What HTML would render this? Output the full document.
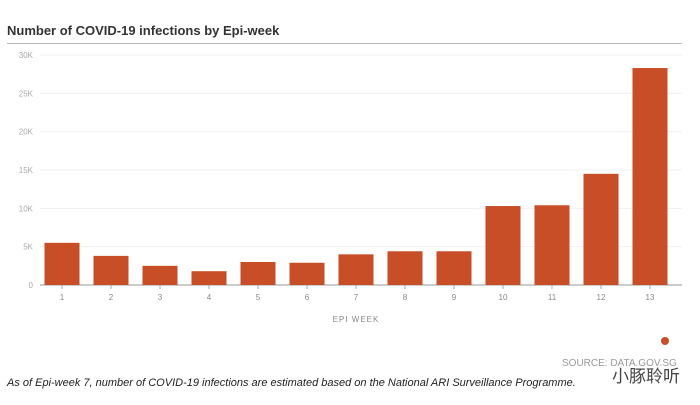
<!DOCTYPE html>
<html><head><meta charset="utf-8"><style>
body{margin:0;background:#fff;width:700px;height:405px;overflow:hidden;font-family:"Liberation Sans","Noto Sans CJK SC",sans-serif;position:relative}
.t{position:absolute;left:7px;top:23px;font-size:13px;font-weight:bold;color:#333}
.rule{position:absolute;left:7px;top:43px;width:675px;height:1px;background:#bbb}
.note{position:absolute;left:7px;top:377px;font-size:11px;font-style:italic;color:#222}
.src{position:absolute;left:562px;top:358px;font-size:10px;color:#999}
.wm{position:absolute;left:612px;top:362px;font-size:17px;color:#444}
.dot{position:absolute;left:661px;top:337px;width:8px;height:8px;border-radius:50%;background:#c84e28}
</style></head><body>
<div class="t">Number of COVID-19 infections by Epi-week</div>
<div class="rule"></div>
<svg id="c" width="700" height="405" style="position:absolute;left:0;top:0"></svg>
<div class="dot"></div>
<div class="src">SOURCE: DATA.GOV.SG</div>
<div class="wm">小豚聆听</div>
<div class="note">As of Epi-week 7, number of COVID-19 infections are estimated based on the National ARI Surveillance Programme.</div>
<script>
const weeks=[1,2,3,4,5,6,7,8,9,10,11,12,13];
const cases=[5500,3800,2500,1800,3000,2900,4000,4400,4400,10300,10400,14500,28300];
const ticks=[0,5000,10000,15000,20000,25000,30000];
const tickLabels=["0","5K","10K","15K","20K","25K","30K"];
const svg=document.getElementById('c');const NS='http://www.w3.org/2000/svg';
const y=v=>285-v*230/30000;const x=i=>62+i*49;
function mk(t,a){const e=document.createElementNS(NS,t);for(const k in a)e.setAttribute(k,a[k]);svg.appendChild(e);return e;}
ticks.forEach((v,i)=>{
 const l=mk('line',{x1:40,x2:682,y1:y(v),y2:y(v),stroke:i?'#f0f0f0':'#999','stroke-width':1});
 
 
 const t=mk('text',{x:33,y:y(v)+3,'text-anchor':'end','font-size':8,fill:'#aaa','font-family':'Liberation Sans'});
 t.textContent=tickLabels[i];
 
 
});
weeks.forEach((w,i)=>{
 const r=mk('rect',{x:x(i)-17.5,y:y(cases[i]),width:35,height:285-y(cases[i]),fill:'#c84e28'});
 
 
 mk('line',{x1:x(i),x2:x(i),y1:285,y2:289,stroke:'#aaa'});
 const t=mk('text',{x:x(i),y:300,'text-anchor':'middle','font-size':8,fill:'#888','font-family':'Liberation Sans'});
 t.textContent=w;
 
 
});
const xt=mk('text',{x:356,y:322,'text-anchor':'middle','font-size':8,fill:'#888','letter-spacing':1,'font-family':'Liberation Sans'});
xt.textContent='EPI WEEK';


</script>
</body></html>
